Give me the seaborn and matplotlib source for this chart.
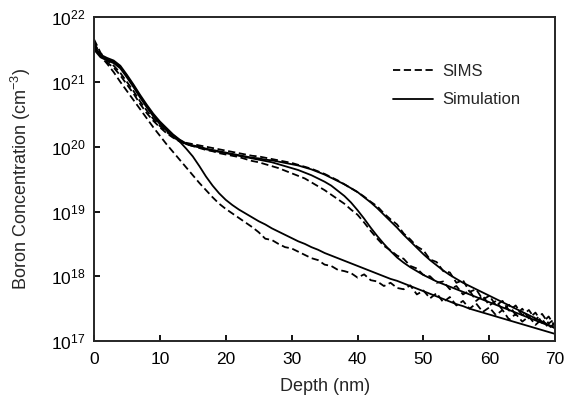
import numpy as np
import pandas as pd
import matplotlib
matplotlib.use("Agg")
import matplotlib.pyplot as plt
import seaborn as sns
from matplotlib.lines import Line2D

# Depth grid (nm)
depth = list(range(0, 71))

# log10 of boron concentration at 1 nm steps
sims_1 = [21.62, 21.40, 21.28, 21.15, 21.00, 20.86, 20.72, 20.58, 20.44, 20.30,
          20.17, 20.04, 19.92, 19.80, 19.68, 19.56, 19.44, 19.33, 19.22, 19.12,
          19.04, 18.97, 18.90, 18.83, 18.76, 18.68, 18.58, 18.56, 18.50, 18.45,
          18.43, 18.38, 18.33, 18.28, 18.25, 18.18, 18.16, 18.10, 18.08, 18.05,
          17.98, 18.03, 17.94, 17.92, 17.85, 17.90, 17.82, 17.80, 17.86, 17.72,
          17.78, 17.66, 17.74, 17.60, 17.68, 17.55, 17.62, 17.50, 17.58, 17.45,
          17.52, 17.40, 17.48, 17.33, 17.42, 17.30, 17.38, 17.25, 17.34, 17.20,
          17.28]
sims_2 = [21.60, 21.42, 21.30, 21.22, 21.10, 20.96, 20.82, 20.66, 20.52, 20.40,
          20.30, 20.21, 20.14, 20.08, 20.04, 20.01, 19.98, 19.95, 19.93, 19.90,
          19.88, 19.86, 19.84, 19.81, 19.78, 19.76, 19.73, 19.70, 19.67, 19.63,
          19.59, 19.55, 19.51, 19.45, 19.39, 19.33, 19.26, 19.19, 19.12, 19.03,
          18.95, 18.83, 18.70, 18.58, 18.47, 18.40, 18.32, 18.27, 18.16, 18.12,
          18.02, 18.00, 17.90, 17.92, 17.80, 17.85, 17.72, 17.78, 17.62, 17.70,
          17.55, 17.62, 17.48, 17.56, 17.40, 17.50, 17.35, 17.44, 17.28, 17.38,
          17.22]
sims_3 = [21.66, 21.45, 21.33, 21.25, 21.14, 21.00, 20.86, 20.70, 20.56, 20.43,
          20.32, 20.23, 20.15, 20.09, 20.06, 20.04, 20.02, 20.00, 19.98, 19.96,
          19.94, 19.92, 19.90, 19.88, 19.86, 19.85, 19.83, 19.81, 19.79, 19.77,
          19.75, 19.72, 19.69, 19.66, 19.62, 19.58, 19.53, 19.48, 19.42, 19.36,
          19.30, 19.23, 19.15, 19.08, 18.97, 18.88, 18.80, 18.66, 18.57, 18.46,
          18.40, 18.26, 18.22, 18.08, 18.06, 17.90, 17.94, 17.76, 17.80, 17.64,
          17.70, 17.55, 17.62, 17.47, 17.55, 17.40, 17.48, 17.33, 17.42, 17.27,
          17.35]

sim_1 = [21.50, 21.38, 21.33, 21.29, 21.21, 21.07, 20.92, 20.76, 20.61, 20.47,
         20.35, 20.25, 20.16, 20.08, 19.97, 19.85, 19.70, 19.54, 19.40, 19.28,
         19.18, 19.10, 19.03, 18.97, 18.91, 18.85, 18.80, 18.74, 18.69, 18.64,
         18.59, 18.54, 18.50, 18.45, 18.41, 18.36, 18.32, 18.28, 18.24, 18.20,
         18.16, 18.12, 18.08, 18.04, 18.00, 17.96, 17.93, 17.89, 17.85, 17.81,
         17.77, 17.73, 17.69, 17.65, 17.61, 17.57, 17.54, 17.50, 17.47, 17.44,
         17.41, 17.38, 17.35, 17.32, 17.29, 17.26, 17.23, 17.20, 17.17, 17.14,
         17.11]
sim_2 = [21.53, 21.40, 21.35, 21.31, 21.23, 21.09, 20.94, 20.78, 20.63, 20.49,
         20.37, 20.27, 20.18, 20.10, 20.04, 20.01, 19.99, 19.96, 19.94, 19.92,
         19.90, 19.88, 19.86, 19.84, 19.82, 19.80, 19.78, 19.76, 19.73, 19.70,
         19.67, 19.64, 19.60, 19.56, 19.51, 19.46, 19.40, 19.32, 19.24, 19.14,
         19.02, 18.89, 18.75, 18.62, 18.50, 18.39, 18.29, 18.21, 18.14, 18.08,
         18.02, 17.97, 17.92, 17.88, 17.84, 17.80, 17.76, 17.72, 17.68, 17.64,
         17.60, 17.56, 17.52, 17.48, 17.44, 17.40, 17.36, 17.32, 17.28, 17.24,
         17.20]
sim_3 = [21.56, 21.42, 21.37, 21.33, 21.25, 21.11, 20.96, 20.80, 20.65, 20.51,
         20.39, 20.29, 20.19, 20.11, 20.05, 20.02, 20.00, 19.97, 19.95, 19.93,
         19.91, 19.89, 19.87, 19.85, 19.83, 19.82, 19.80, 19.79, 19.77, 19.75,
         19.73, 19.71, 19.68, 19.65, 19.61, 19.57, 19.52, 19.47, 19.42, 19.36,
         19.30, 19.22, 19.14, 19.05, 18.95, 18.85, 18.75, 18.64, 18.54, 18.44,
         18.34, 18.25, 18.17, 18.09, 18.02, 17.96, 17.90, 17.85, 17.80, 17.75,
         17.70, 17.65, 17.60, 17.55, 17.50, 17.45, 17.40, 17.35, 17.30, 17.25,
         17.20]

curves = {
    ("SIMS", "s1"): sims_1, ("SIMS", "s2"): sims_2, ("SIMS", "s3"): sims_3,
    ("Simulation", "m1"): sim_1, ("Simulation", "m2"): sim_2, ("Simulation", "m3"): sim_3,
}
rows = []
for (kind, run), logc in curves.items():
    for d, v in zip(depth, logc):
        rows.append({"depth": d, "conc": 10 ** v, "kind": kind, "run": run})
df = pd.DataFrame(rows)

sns.set_style("ticks")
plt.rcParams["font.family"] = ["Liberation Sans", "DejaVu Sans"]
plt.rcParams["mathtext.fontset"] = "custom"
plt.rcParams["mathtext.rm"] = "Liberation Sans"
plt.rcParams["mathtext.it"] = "Liberation Sans:italic"

fig = plt.figure(figsize=(5.66, 4.08), dpi=100)
ax = fig.add_axes([0.166, 0.164, 0.815, 0.794])

sns.lineplot(data=df, x="depth", y="conc", units="run", estimator=None,
             style="kind", dashes={"SIMS": (4, 2), "Simulation": ""},
             color="black", linewidth=1.3, legend=False, ax=ax)

ax.set_yscale("log")
ax.set_xlim(0, 70)
ax.set_ylim(1e17, 1e22)
ax.set_xticks(range(0, 71, 10))
ax.set_yticks([1e17, 1e18, 1e19, 1e20, 1e21, 1e22])
ax.yaxis.set_minor_locator(matplotlib.ticker.NullLocator())
ax.tick_params(direction="in", length=4.5, width=1.3, labelsize=12.5, colors="black")
ax.tick_params(axis="x", pad=8)
ax.tick_params(axis="y", pad=6)
for s in ax.spines.values():
    s.set_linewidth(1.4)
    s.set_visible(True)

ax.set_xlabel("Depth (nm)", fontsize=13, labelpad=8)
ax.set_ylabel("Boron Concentration (cm$^{-3}$)", fontsize=13, labelpad=13)

handles = [Line2D([], [], color="black", lw=1.3, dashes=(4, 2)),
           Line2D([], [], color="black", lw=1.3)]
ax.legend(handles, ["SIMS", "Simulation"], frameon=False, fontsize=12,
          loc="upper left", bbox_to_anchor=(0.649, 0.855), borderaxespad=0,
          borderpad=0, handlelength=2.4, handletextpad=0.55, labelspacing=0.8)

fig.savefig("out.png", dpi=100)
